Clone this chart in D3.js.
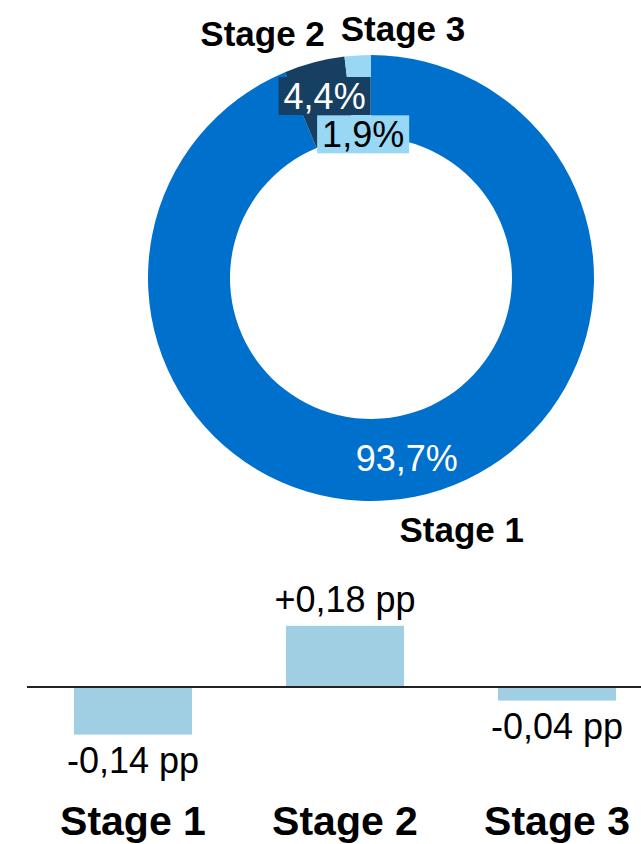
<!DOCTYPE html>
<html>
<head>
<meta charset="utf-8">
<script src="https://cdn.jsdelivr.net/npm/d3@7"></script>
<style>
  body { margin: 0; background: #fff; }
  svg { display: block; font-family: "Liberation Sans", Arial, sans-serif; }
</style>
</head>
<body>
<div id="chart"></div>
<script>
// donut data (share of portfolio, %)
var stages = ["Stage 1", "Stage 2", "Stage 3"];
var shares = [93.7, 4.4, 1.9];
var shareLabels = ["93,7%", "4,4%", "1,9%"];

// change vs previous period (pp)
var changes = [-0.14, 0.18, -0.04];
var changeLabels = ["-0,14 pp", "+0,18 pp", "-0,04 pp"];

var sliceColors = ["#0070cd", "#163f62", "#98d8f5"];
var barColor = "#a0cfe3";

var width = 641, height = 844;

var svg = d3.select("#chart")
  .append("svg")
  .attr("width", width)
  .attr("height", height);

// ---------- donut ----------
var cx = 371, cy = 278;
var outerR = 223, innerR = 141;

var pie = d3.pie().sort(null).value(function(d) { return d; });
var arcs = pie(shares);
var arc = d3.arc().innerRadius(innerR).outerRadius(outerR);
var outerArc = d3.arc().innerRadius(outerR + 30).outerRadius(outerR + 30);

var donut = svg.append("g")
  .attr("transform", "translate(" + cx + "," + cy + ")");

donut.selectAll("path.slice")
  .data(arcs)
  .enter()
  .append("path")
  .attr("class", "slice")
  .attr("d", arc)
  .attr("fill", function(d, i) { return sliceColors[i]; });

// value labels: shift from centroid, boxed for the small slices
var valueShift = [[0, 2], [0, -6], [3, 38]];
var valueBox = [false, true, true];
var valueFill = ["#fff", "#fff", "#000"];

arcs.forEach(function(d, i) {
  var c = arc.centroid(d);
  var g = donut.append("g")
    .attr("transform", "translate(" + (c[0] + valueShift[i][0]) + "," + (c[1] + valueShift[i][1]) + ")");
  var t = g.append("text")
    .attr("text-anchor", "middle")
    .attr("dy", "0.36em")
    .attr("font-size", 36)
    .attr("fill", valueFill[i])
    .text(shareLabels[i]);
  if (valueBox[i]) {
    var bb = t.node().getBBox();
    g.insert("rect", "text")
      .attr("x", bb.x - 5)
      .attr("y", -19)
      .attr("width", bb.width + 10)
      .attr("height", 38)
      .attr("fill", sliceColors[i]);
  }
});

// category labels outside the ring (baseline offsets from the outer centroid)
var nameShift = [[41, 16], [-44, 13], [47, 16]];
arcs.forEach(function(d, i) {
  var c = outerArc.centroid(d);
  donut.append("text")
    .attr("x", c[0] + nameShift[i][0])
    .attr("y", c[1] + nameShift[i][1])
    .attr("text-anchor", "middle")
    .attr("font-size", 35)
    .attr("font-weight", "bold")
    .attr("fill", "#000")
    .text(stages[i]);
});

// ---------- bars ----------
var x = d3.scaleBand()
  .domain(stages)
  .range([-20, 710])
  .paddingInner(0.443)
  .paddingOuter(0.443);

var y = d3.scaleLinear()
  .domain([-0.2, 0.2])
  .range([755, 619]);

svg.selectAll("rect.bar")
  .data(changes)
  .enter()
  .append("rect")
  .attr("class", "bar")
  .attr("x", function(d, i) { return x(stages[i]); })
  .attr("width", x.bandwidth())
  .attr("y", function(d) { return y(Math.max(0, d)); })
  .attr("height", function(d) { return Math.abs(y(d) - y(0)); })
  .attr("fill", barColor);

svg.append("line")
  .attr("x1", 27)
  .attr("x2", width)
  .attr("y1", y(0))
  .attr("y2", y(0))
  .attr("stroke", "#222")
  .attr("stroke-width", 2);

svg.selectAll("text.change")
  .data(changes)
  .enter()
  .append("text")
  .attr("class", "change")
  .attr("x", function(d, i) { return x(stages[i]) + x.bandwidth() / 2; })
  .attr("y", function(d) { return d >= 0 ? y(d) - 14 : y(d) + 38; })
  .attr("text-anchor", "middle")
  .attr("font-size", 36)
  .attr("fill", "#000")
  .text(function(d, i) { return changeLabels[i]; });

svg.selectAll("text.cat")
  .data(stages)
  .enter()
  .append("text")
  .attr("class", "cat")
  .attr("x", function(d) { return x(d) + x.bandwidth() / 2; })
  .attr("y", 835)
  .attr("text-anchor", "middle")
  .attr("font-size", 41)
  .attr("font-weight", "bold")
  .attr("fill", "#000")
  .text(function(d) { return d; });
</script>
</body>
</html>
